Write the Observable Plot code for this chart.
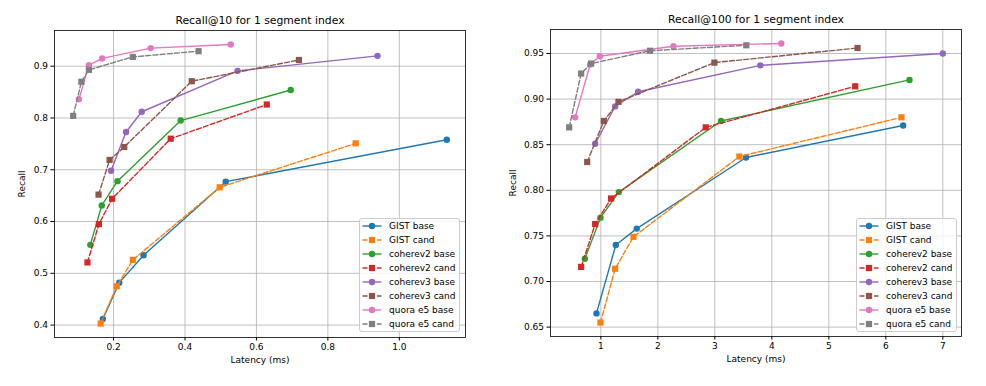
<!DOCTYPE html>
<html>
<head>
<meta charset="utf-8">
<script src="https://cdn.jsdelivr.net/npm/d3@7"></script>
<script src="https://cdn.jsdelivr.net/npm/@observablehq/plot@0.6"></script>
<style>
  body { margin: 0; background: #fff; font-family: "DejaVu Sans", sans-serif; }
  #wrap { position: relative; width: 986px; height: 386px; overflow: hidden; }
  #wrap > * { position: absolute; }
</style>
</head>
<body>
<div id="wrap"></div>
<script>
const seriesNames = ["GIST base","GIST cand","coherev2 base","coherev2 cand","coherev3 base","coherev3 cand","quora e5 base","quora e5 cand"];
const seriesColors = ["#1f77b4","#ff7f0e","#2ca02c","#d62728","#9467bd","#8c564b","#e377c2","#7f7f7f"];

const r10Latency = [
  [0.170,0.216,0.284,0.514,1.133],
  [0.164,0.209,0.254,0.497,0.878],
  [0.135,0.167,0.211,0.388,0.696],
  [0.127,0.159,0.196,0.360,0.629],
  [0.193,0.235,0.279,0.547,0.939],
  [0.158,0.189,0.230,0.419,0.719],
  [0.103,0.131,0.168,0.304,0.528],
  [0.087,0.110,0.131,0.254,0.438]];
const r10Recall = [
  [0.412,0.482,0.535,0.677,0.758],
  [0.403,0.475,0.526,0.666,0.751],
  [0.555,0.631,0.678,0.795,0.854],
  [0.521,0.595,0.644,0.760,0.826],
  [0.698,0.773,0.812,0.891,0.920],
  [0.652,0.719,0.744,0.871,0.912],
  [0.836,0.902,0.915,0.935,0.942],
  [0.804,0.870,0.893,0.918,0.929]];
const r100Latency = [
  [0.923,1.262,1.630,3.547,6.304],
  [0.993,1.250,1.572,3.430,6.275],
  [0.719,0.993,1.315,3.108,6.415],
  [0.654,0.900,1.180,2.840,5.463],
  [0.900,1.250,1.653,3.798,7.000],
  [0.760,1.052,1.309,2.992,5.504],
  [0.549,0.812,0.982,2.273,4.166],
  [0.444,0.654,0.829,1.864,3.552]];
const r100Recall = [
  [0.665,0.740,0.758,0.836,0.871],
  [0.655,0.714,0.749,0.837,0.880],
  [0.725,0.770,0.798,0.876,0.921],
  [0.716,0.763,0.791,0.869,0.914],
  [0.851,0.892,0.908,0.937,0.950],
  [0.831,0.876,0.897,0.940,0.956],
  [0.880,0.938,0.947,0.958,0.961],
  [0.869,0.928,0.939,0.953,0.959]];

const r10XTicks = [0.2,0.4,0.6,0.8,1.0];
const r10YTicks = [0.4,0.5,0.6,0.7,0.8,0.9];
const r100XTicks = [1,2,3,4,5,6,7];
const r100YTicks = [0.65,0.70,0.75,0.80,0.85,0.90,0.95];

const titles = ["Recall@10 for 1 segment index", "Recall@100 for 1 segment index"];
const xLabel = "Latency (ms)";
const yLabel = "Recall";

function padded(ext) {
  const p = (ext[1] - ext[0]) * 0.05;
  return [ext[0] - p, ext[1] + p];
}

function chart(o) {
  const rows = [];
  seriesNames.forEach((s, i) => o.lat[i].forEach((x, j) => rows.push({series: s, idx: i, x, y: o.rec[i][j]})));
  const grid = {stroke: "#b0b0b0", strokeOpacity: 1, strokeWidth: 0.8};
  const marks = [
    Plot.gridX({ticks: o.xTicks, ...grid}),
    Plot.gridY({ticks: o.yTicks, ...grid})
  ];
  seriesNames.forEach((s, i) => {
    const d = rows.filter(r => r.idx === i);
    const cand = i % 2 === 1;
    marks.push(Plot.line(d, {x: "x", y: "y", stroke: seriesColors[i], strokeWidth: 1.4,
      strokeDasharray: cand ? "5,2.2" : null}));
    marks.push(Plot.dot(d, {x: "x", y: "y", fill: seriesColors[i], symbol: cand ? "square" : "circle", r: cand ? 3.5 : 3.2}));
  });
  marks.push(
    Plot.frame({stroke: "#000", strokeWidth: 0.8}),
    Plot.axisX({ticks: o.xTicks, tickFormat: o.xFmt, tickSize: 3.5, tickPadding: 3, label: null, fontSize: 9}),
    Plot.axisY({ticks: o.yTicks, tickFormat: o.yFmt, tickSize: 3.5, tickPadding: 3, label: null, fontSize: 9}),
    Plot.text([o.title], {text: d => d, frameAnchor: "top", dy: -10, fontSize: 10.8, textAnchor: "middle", lineAnchor: "middle"}),
    Plot.text([xLabel], {text: d => d, frameAnchor: "bottom", dy: 23, fontSize: 9, textAnchor: "middle", lineAnchor: "middle"}),
    Plot.text([yLabel], {text: d => d, frameAnchor: "left", dx: o.ylabelDx, rotate: -90, fontSize: 9, textAnchor: "middle", lineAnchor: "middle"})
  );
  const svg = Plot.plot({
    width: o.width, height: 386,
    marginLeft: o.ml, marginRight: o.mr, marginTop: o.mt, marginBottom: o.mb,
    x: {domain: padded(d3.extent(rows, d => d.x))},
    y: {domain: padded(d3.extent(rows, d => d.y))},
    style: {fontFamily: "DejaVu Sans, sans-serif", fontSize: "9px", color: "#000", background: "transparent"},
    marks
  });
  svg.style.left = o.left + "px";
  svg.style.top = "0px";
  return svg;
}

function legend(left, top) {
  const ns = "http://www.w3.org/2000/svg";
  const box = document.createElement("div");
  Object.assign(box.style, {left: left + "px", top: top + "px", width: "101px", height: "114px",
    border: "1px solid #cccccc", borderRadius: "3px", background: "rgba(255,255,255,0.8)", boxSizing: "border-box"});
  const svg = document.createElementNS(ns, "svg");
  svg.setAttribute("width", 101); svg.setAttribute("height", 114);
  svg.style.position = "absolute"; svg.style.left = "-1px"; svg.style.top = "-1px";
  seriesNames.forEach((s, i) => {
    const y = 8 + 14 * i;
    const cand = i % 2 === 1;
    const ln = document.createElementNS(ns, "line");
    ln.setAttribute("x1", 3.5); ln.setAttribute("x2", 22.5); ln.setAttribute("y1", y); ln.setAttribute("y2", y);
    ln.setAttribute("stroke", seriesColors[i]); ln.setAttribute("stroke-width", 1.4);
    if (cand) ln.setAttribute("stroke-dasharray", "5,2.2");
    svg.appendChild(ln);
    let m;
    if (cand) {
      m = document.createElementNS(ns, "rect");
      m.setAttribute("x", 13 - 3.1); m.setAttribute("y", y - 3.1); m.setAttribute("width", 6.2); m.setAttribute("height", 6.2);
    } else {
      m = document.createElementNS(ns, "circle");
      m.setAttribute("cx", 13); m.setAttribute("cy", y); m.setAttribute("r", 3.2);
    }
    m.setAttribute("fill", seriesColors[i]);
    svg.appendChild(m);
    const t = document.createElementNS(ns, "text");
    t.setAttribute("x", 30); t.setAttribute("y", y); t.setAttribute("dy", "0.35em");
    t.setAttribute("font-size", 9); t.setAttribute("font-family", "DejaVu Sans, sans-serif"); t.setAttribute("fill", "#000");
    t.textContent = s;
    svg.appendChild(t);
  });
  box.appendChild(svg);
  return box;
}

const wrap = document.getElementById("wrap");
wrap.appendChild(chart({title: titles[0], lat: r10Latency, rec: r10Recall, xTicks: r10XTicks, yTicks: r10YTicks,
  xFmt: d3.format(".1f"), yFmt: d3.format(".1f"), width: 490, left: 0, ml: 54, mr: 25, mt: 30, mb: 49, ylabelDx: -32}));
wrap.appendChild(chart({title: titles[1], lat: r100Latency, rec: r100Recall, xTicks: r100XTicks, yTicks: r100YTicks,
  xFmt: d3.format("d"), yFmt: d3.format(".2f"), width: 496, left: 490, ml: 60, mr: 25, mt: 29, mb: 50, ylabelDx: -37}));
wrap.appendChild(legend(359, 218));
wrap.appendChild(legend(856, 218));
</script>
</body>
</html>
